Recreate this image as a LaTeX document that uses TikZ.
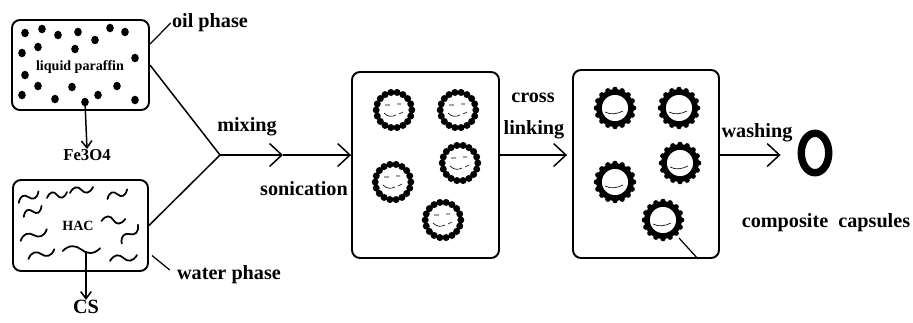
\documentclass[tikz,border=0pt]{standalone}
\usepackage{fontspec}
\setmainfont{Liberation Serif}
\usetikzlibrary{arrows.meta,calc,shapes.geometric}

% one drawing unit = 0.02cm
\newcommand\wavy[4]{% start x, start y, length, angle
  \draw[wave,shift={(#1,#2)},rotate=#4] (0,3)
    .. controls ({0.15*#3},-4) and ({0.35*#3},-4) .. ({0.5*#3},0)
    .. controls ({0.65*#3},4) and ({0.85*#3},4) .. (#3,-3);}

\tikzset{
  capA/.pic={
    \coordinate (-c) at (0,0);
    \draw[line width=1.4pt] (0,0) circle (17.8);
    \foreach \a in {0,20,...,359} \fill (\a:17.8) circle (3.5);
    \draw[line width=0.35pt] (-9,-5) -- (-4,-5) (3,-6) -- (7,-6)
      (-10,3) .. controls (-6,7) and (-2,7) .. (2,5) (5,4) -- (9,2);
  },
  capB/.pic={
    \coordinate (-c) at (0,0);
    \draw[line width=3.2pt] (0,0) circle (16);
    \foreach \a in {0,22.5,...,359} \fill (\a:18.6) circle (2.7);
    \draw[line width=0.35pt] (-10,4) .. controls (-4,7) and (2,6) .. (8,3);
  }
}

\begin{document}
\begin{tikzpicture}[x=0.02cm,y=-0.02cm,
  box/.style={draw,line width=1.1pt,rounded corners=4.5pt,inner sep=0pt},
  lbl/.style={font=\fontsize{11.5}{13}\selectfont\bfseries,inner sep=0pt},
  small/.style={font=\fontsize{8}{9}\selectfont\bfseries,inner sep=0pt},
  flow/.style={line width=0.85pt,-{Straight Barb[length=7pt,width=13pt,line width=0.85pt]}},
  drop/.style={line width=0.85pt,-{Straight Barb[length=4pt,width=6pt,line width=0.85pt]}},
  lead/.style={line width=0.7pt},
  wave/.style={line width=1pt,line cap=round},
  bead/.style={fill=black}
]
\useasboundingbox (0,0) rectangle (913,322);

% ---------- oil phase ----------
\node[box,minimum width=2.74cm,minimum height=1.8cm] (oil) at (80.5,65) {};
\foreach \p in {(25,33),(42,29),(58,35),(78,32),(95,40),(110,28),(125,32),
                (38,47),(75,49),(22,53),(135,58),(25,75),(38,86),(72,87),
                (98,95),(117,86),(22,95),(55,99),(85,102),(135,100)}
  \fill[bead] \p ellipse (3.8 and 4.3);
\coordinate (fesrc) at (85,102);
\node[small] (paraffin) at (80,67) {liquid paraffin};
\node[lbl,font=\fontsize{9.5}{11}\selectfont\bfseries] (fe) at (87,155) {Fe3O4};
\draw[drop] (fesrc) -- (fe.north);
\node[lbl] (oilph) at (210,23) {oil phase};
\draw[lead] ($(oil.north east)+(0,25)$) -- ($(oilph.west)+(-1,0)$);

% ---------- water phase ----------
\node[box,minimum width=2.7cm,minimum height=1.82cm] (water) at (80.5,225.5) {};
\wavy{18}{200}{22}{15}
\wavy{47}{195}{20}{0}
\wavy{70}{190}{23}{0}
\wavy{107}{196}{21}{10}
\wavy{23}{214}{20}{15}
\wavy{102}{218}{23}{-10}
\wavy{20}{238}{28}{12}
\wavy{120}{241}{24}{35}
\wavy{28}{256}{27}{8}
\wavy{63}{248}{37}{-5}
\wavy{110}{258}{27}{0}
\coordinate (cssrc) at (86,251);
\node[small] (hac) at (78,226) {HAC};
\node[lbl] (cs) at (86,307) {CS};
\draw[drop] (cssrc) -- (cs.north);
\node[lbl] (waterph) at (229,275) {water phase};
\draw[lead] ($(water.east)+(3,30)$) -- ($(waterph.west)+(-7,-5)$);

% ---------- mixing / sonication ----------
\coordinate (mix) at (220,155);
\coordinate (mid) at (283,155);
\draw[line width=0.85pt] (oil.east) -- (mix);
\draw[line width=0.85pt] (water.east) -- (mix);
\draw[flow] (mix) -- (mid);
\node[lbl] (mixing) at (247,127) {mixing};
\node[lbl] (sonic) at (304,189) {sonication};

% ---------- emulsion ----------
\node[box,minimum width=2.94cm,minimum height=3.72cm] (box2) at (425.5,165) {};
\draw[flow] (mid) -- (box2.west |- mid);
\pic (c21) at (394,110) {capA};
\pic (c22) at (458,110) {capA};
\pic (c23) at (460,163) {capA};
\pic (c24) at (393,182) {capA};
\pic (c25) at (443,220) {capA};

% ---------- cross linking ----------
\node[lbl] (cross) at (533,98) {cross};
\node[lbl] (linking) at (534,130) {linking};
\node[box,minimum width=2.92cm,minimum height=3.76cm] (box3) at (646,164) {};
\draw[flow,shorten >=0.1cm] (box2.east |- mid) -- (box3.west |- mid);
\pic (c31) at (615,108) {capB};
\pic (c32) at (679,108) {capB};
\pic (c33) at (680,163) {capB};
\pic (c34) at (615,182) {capB};
\pic (c35) at (663,220) {capB};
\draw[lead] ($(c35-c)+(16,18)$) -- ($(box3.south)+(52,0)$);

% ---------- washing ----------
\node[lbl] (washing) at (757,133) {washing};
\node[draw,ellipse,line width=4.2pt,minimum width=0.55cm,minimum height=0.79cm,inner sep=0pt]
  (final) at (815,153) {};
\draw[flow,shorten >=0.34cm] (box3.east |- mid) -- (final.west |- mid);
\node[lbl] (product) at (826,223) {composite\hskip0.5em capsules};
\end{tikzpicture}
\end{document}
